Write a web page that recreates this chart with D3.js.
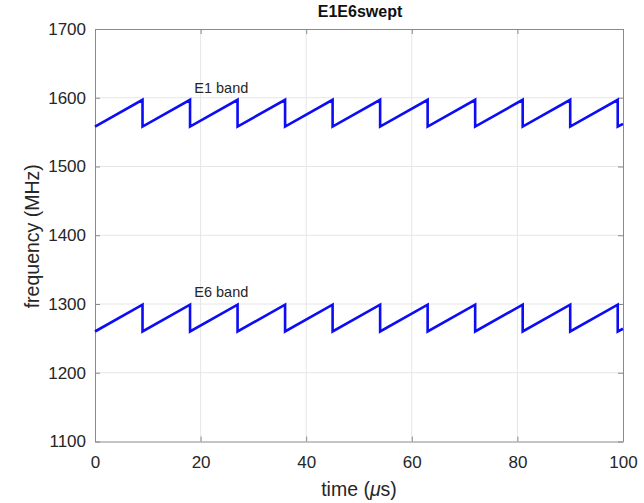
<!DOCTYPE html>
<html>
<head>
<meta charset="utf-8">
<script src="https://cdn.jsdelivr.net/npm/d3@7"></script>
<style>
  html, body { margin: 0; padding: 0; background: #fff; }
  svg { display: block; font-family: "Liberation Sans", Arial, Helvetica, sans-serif; }
</style>
</head>
<body>
<svg id="chart" width="644" height="503"></svg>
<script>
// ---- data ----
const title = "E1E6swept";
const xTicks = [0, 20, 40, 60, 80, 100];
const yTicks = [1100, 1200, 1300, 1400, 1500, 1600, 1700];
const sweepTimes = [0, 9, 9, 18, 18, 27, 27, 36, 36, 45, 45, 54, 54, 63, 63, 72, 72, 81, 81, 90, 90, 99, 99, 100];
const e1Freq = [1558, 1597, 1558, 1597, 1558, 1597, 1558, 1597, 1558, 1597, 1558, 1597, 1558, 1597, 1558, 1597, 1558, 1597, 1558, 1597, 1558, 1597, 1558, 1562];
const e6Freq = [1260, 1299, 1260, 1299, 1260, 1299, 1260, 1299, 1260, 1299, 1260, 1299, 1260, 1299, 1260, 1299, 1260, 1299, 1260, 1299, 1260, 1299, 1260, 1264];
const bandLabels = [
  { text: "E1 band", t: 18.8, f: 1614 },
  { text: "E6 band", t: 18.8, f: 1317 }
];

// ---- layout ----
const svg = d3.select("#chart");
const mLeft = 95, mRight = 623, mTop = 29, mBottom = 441.5;
const x = d3.scaleLinear().domain([0, 100]).range([mLeft, mRight]);
const y = d3.scaleLinear().domain([1100, 1700]).range([mBottom, mTop]);
const axisColor = "#8a8a8a";
const textColor = "#262626";

// grid
const grid = svg.append("g");
grid.selectAll("line.gx").data(xTicks.slice(1, -1)).enter().append("line")
  .attr("x1", d => x(d)).attr("x2", d => x(d))
  .attr("y1", mTop).attr("y2", mBottom)
  .attr("stroke", "#e6e6e6").attr("stroke-width", 1);
grid.selectAll("line.gy").data(yTicks.slice(1, -1)).enter().append("line")
  .attr("x1", mLeft).attr("x2", mRight)
  .attr("y1", d => y(d)).attr("y2", d => y(d))
  .attr("stroke", "#e6e6e6").attr("stroke-width", 1);

// axes
const fmt = d3.format("d");
const xAxis = d3.axisBottom(x).tickValues(xTicks).tickFormat(fmt).tickSizeInner(-5).tickSizeOuter(0).tickPadding(14);
const yAxis = d3.axisLeft(y).tickValues(yTicks).tickFormat(fmt).tickSizeInner(-5).tickSizeOuter(0).tickPadding(9);
const gx = svg.append("g").attr("transform", `translate(0,${mBottom})`).call(xAxis);
const gy = svg.append("g").attr("transform", `translate(${mLeft},0)`).call(yAxis);
[gx, gy].forEach(g => {
  g.select(".domain").attr("stroke", axisColor);
  g.selectAll(".tick line").attr("stroke", axisColor);
  g.selectAll(".tick text").attr("fill", textColor).style("font-size", "17px")
    .style("font-family", '"Liberation Sans", Arial, sans-serif');
});
// box top and right
const xAxisTop = d3.axisTop(x).tickValues(xTicks).tickSizeInner(-5).tickSizeOuter(0).tickFormat("");
const yAxisRight = d3.axisRight(y).tickValues(yTicks).tickSizeInner(-5).tickSizeOuter(0).tickFormat("");
const gt = svg.append("g").attr("transform", `translate(0,${mTop})`).call(xAxisTop);
const gr = svg.append("g").attr("transform", `translate(${mRight},0)`).call(yAxisRight);
[gt, gr].forEach(g => {
  g.select(".domain").attr("stroke", axisColor);
  g.selectAll(".tick line").attr("stroke", axisColor);
});

// lines
const line = d3.line().x(d => x(d[0])).y(d => y(d[1]));
[e1Freq, e6Freq].forEach(series => {
  svg.append("path")
    .datum(sweepTimes.map((t, i) => [t, series[i]]))
    .attr("d", line)
    .attr("fill", "none")
    .attr("stroke", "#0c0cf5")
    .attr("stroke-width", 2.6)
    .attr("stroke-linejoin", "miter");
});

// band labels
svg.selectAll("text.band").data(bandLabels).enter().append("text")
  .attr("x", d => x(d.t)).attr("y", d => y(d.f))
  .attr("dy", "0.35em")
  .attr("fill", textColor)
  .style("font-size", "14.5px")
  .text(d => d.text);

// title
svg.append("text")
  .attr("x", (mLeft + mRight) / 2 + 1).attr("y", 17)
  .attr("text-anchor", "middle")
  .attr("fill", "#111")
  .style("font-size", "16px").style("font-weight", "bold")
  .text(title);

// x label
const xl = svg.append("text")
  .attr("x", (mLeft + mRight) / 2).attr("y", 496)
  .attr("text-anchor", "middle")
  .attr("fill", textColor)
  .style("font-size", "19.5px");
xl.append("tspan").text("time (");
xl.append("tspan").style("font-style", "italic").text("μ");
xl.append("tspan").text("s)");

// y label
svg.append("text")
  .attr("transform", `translate(39,${(mTop + mBottom) / 2 + 1}) rotate(-90)`)
  .attr("text-anchor", "middle")
  .attr("fill", textColor)
  .style("font-size", "19.5px")
  .text("frequency (MHz)");
</script>
</body>
</html>
